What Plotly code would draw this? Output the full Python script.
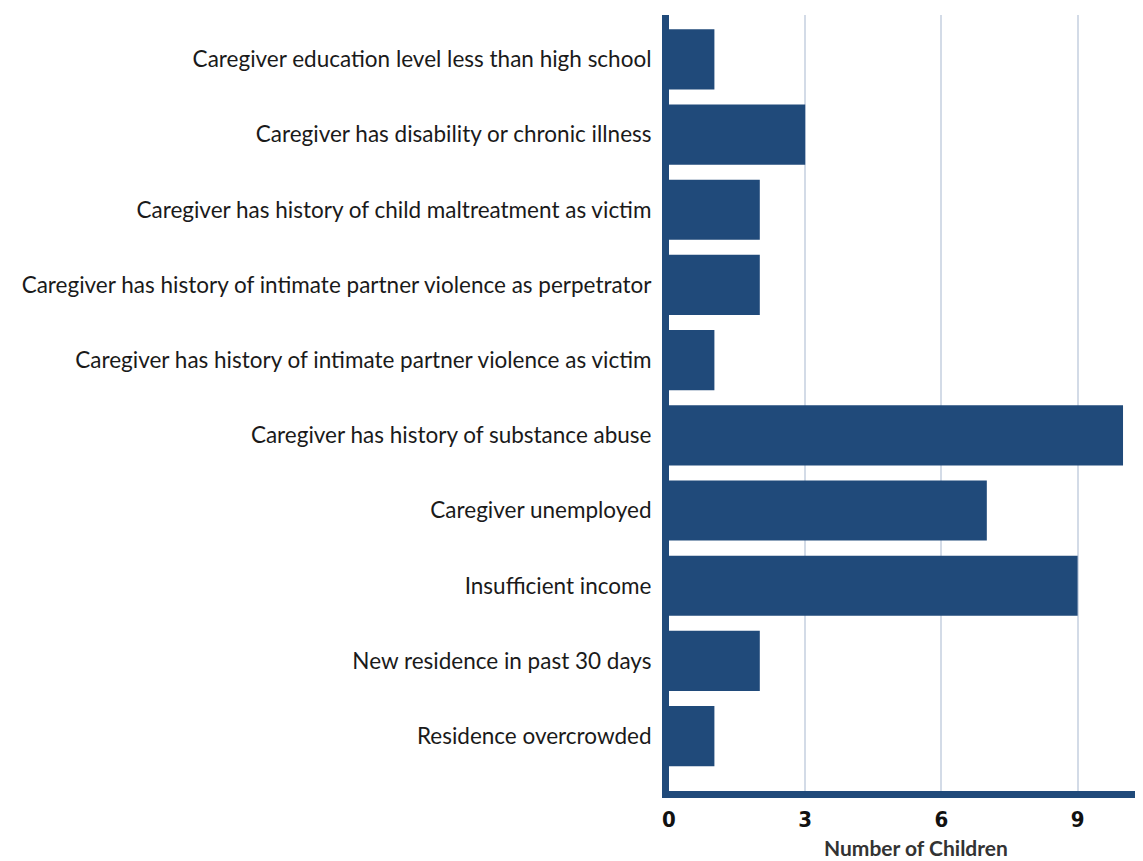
import plotly.graph_objects as go

categories = [
    "Caregiver education level less than high school",
    "Caregiver has disability or chronic illness",
    "Caregiver has history of child maltreatment as victim",
    "Caregiver has history of intimate partner violence as perpetrator",
    "Caregiver has history of intimate partner violence as victim",
    "Caregiver has history of substance abuse",
    "Caregiver unemployed",
    "Insufficient income",
    "New residence in past 30 days",
    "Residence overcrowded",
]
values = [1, 3, 2, 2, 1, 10, 7, 9, 2, 1]
x_ticks = [0, 3, 6, 9]
x_title = "Number of Children"

bar_color = "#204a7a"

fig = go.Figure(go.Bar(
    x=values, y=categories, orientation="h",
    marker=dict(color=bar_color, line=dict(width=0)),
))

fig.update_layout(
    width=1135, height=853,
    margin=dict(l=661, r=0, t=7, b=70),
    plot_bgcolor="white", paper_bgcolor="white",
    bargap=0.2,
    showlegend=False,
    xaxis=dict(
        range=[0, 10.44],
        tickvals=x_ticks,
        ticktext=[str(t) for t in x_ticks],
        showgrid=True, gridcolor="#d3dbe7", gridwidth=2,
        zeroline=False,
        showline=True, linecolor=bar_color, linewidth=7,
        ticks="", ticklen=0,
        ticklabelstandoff=3,
        tickfont=dict(family="Liberation Sans Narrow, DejaVu Sans Condensed, Roboto, sans-serif",
                      size=22, color="#111111", weight="bold"),
    ),
    yaxis=dict(
        type="category",
        categoryorder="array", categoryarray=categories,
        range=[9.73, -0.59],
        showgrid=False, zeroline=False,
        showline=True, linecolor=bar_color, linewidth=7,
        ticks="", ticklen=0,
        ticklabelstandoff=6,
        tickfont=dict(family="Lato", size=22.5, color="#1a1a1a"),
        automargin=False,
    ),
    annotations=[dict(
        text="<b>" + x_title + "</b>",
        xref="paper", yref="paper", x=0.521, y=-0.0902,
        xanchor="center", yanchor="bottom", showarrow=False,
        borderpad=0,
        font=dict(family="Lato", size=21, color="#333333"),
    )],
)

fig.write_html("out.html")
